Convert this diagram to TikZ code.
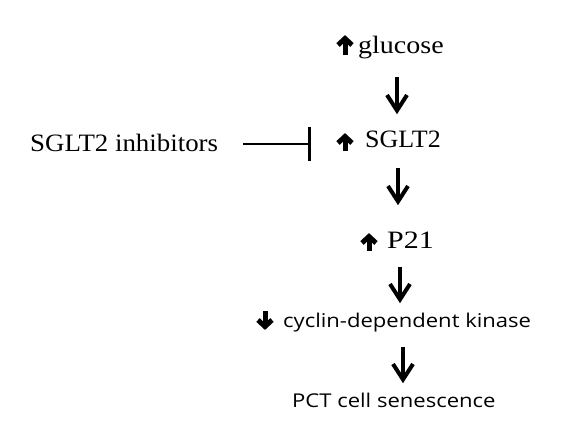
\documentclass[tikz,border=0pt]{standalone}
\usepackage{fontspec}
\setmainfont{Liberation Serif}
\newfontfamily\sansf{Open Sans}
\begin{document}
\begin{tikzpicture}[x=1pt,y=-1pt,
  lbl/.style={inner sep=0pt, anchor=base west, font=\fontsize{25}{30}\selectfont},
  slbl/.style={inner sep=0pt, anchor=base west, font=\sansf\fontsize{19}{23}\selectfont},
  flow/.style={line width=3.5pt},
  flowhead/.style={line width=4pt, line join=miter},
  markshaft/.style={line width=5pt},
  markhead/.style={line width=5pt, line join=miter},
  inhib/.style={line width=2pt},
]
\useasboundingbox[fill=white] (0,0) rectangle (580,437);
% text nodes
\node[lbl] (glu) at (358,53) {\scalebox{1.12}[1]{glucose}};
\node[lbl] (sglt) at (365,147) {\scalebox{1.04}[1]{SGLT2}};
\node[lbl] (inh) at (30,151) {\scalebox{1.075}[1]{SGLT2 inhibitors}};
\node[lbl] (p21) at (387,248) {\scalebox{1.2}[1]{P21}};
\node[slbl] (cdk) at (283,327) {\scalebox{1.16}[1]{cyclin-dependent kinase}};
\node[slbl] (pct) at (292,407) {\scalebox{1.16}[1]{PCT cell senescence}};
% small up/down markers: x, ytop, ybottom
\newcommand{\upmark}[3]{%
  \draw[markshaft] (#1,#3) -- (#1,#2+4);
  \draw[markhead] (#1-7,#2+10) -- (#1,#2+3.5) -- (#1+7,#2+10);}
\newcommand{\downmark}[3]{%
  \draw[markshaft] (#1,#2) -- (#1,#3-4);
  \draw[markhead] (#1-7,#3-10) -- (#1,#3-3.5) -- (#1+7,#3-10);}
\upmark{345}{35}{55}
\upmark{345}{133}{151}
\upmark{369}{233}{251}
\downmark{265}{311}{330}
% flow arrows between nodes
\foreach \x/\ya/\yb in {397/77/114, 398/168/205, 400/267/303, 403/347/383}{
  \draw[flow] (\x,\ya) -- (\x,\yb-3);
  \draw[flowhead] (\x-10,\yb-19) -- (\x,\yb-3.5) -- (\x+10,\yb-19);
}
% inhibition
\coordinate (bar) at (309,144);
\draw[inhib] (243,144) -- (bar);
\draw[line width=3pt] (309,127) -- (309,161);
\end{tikzpicture}
\end{document}
